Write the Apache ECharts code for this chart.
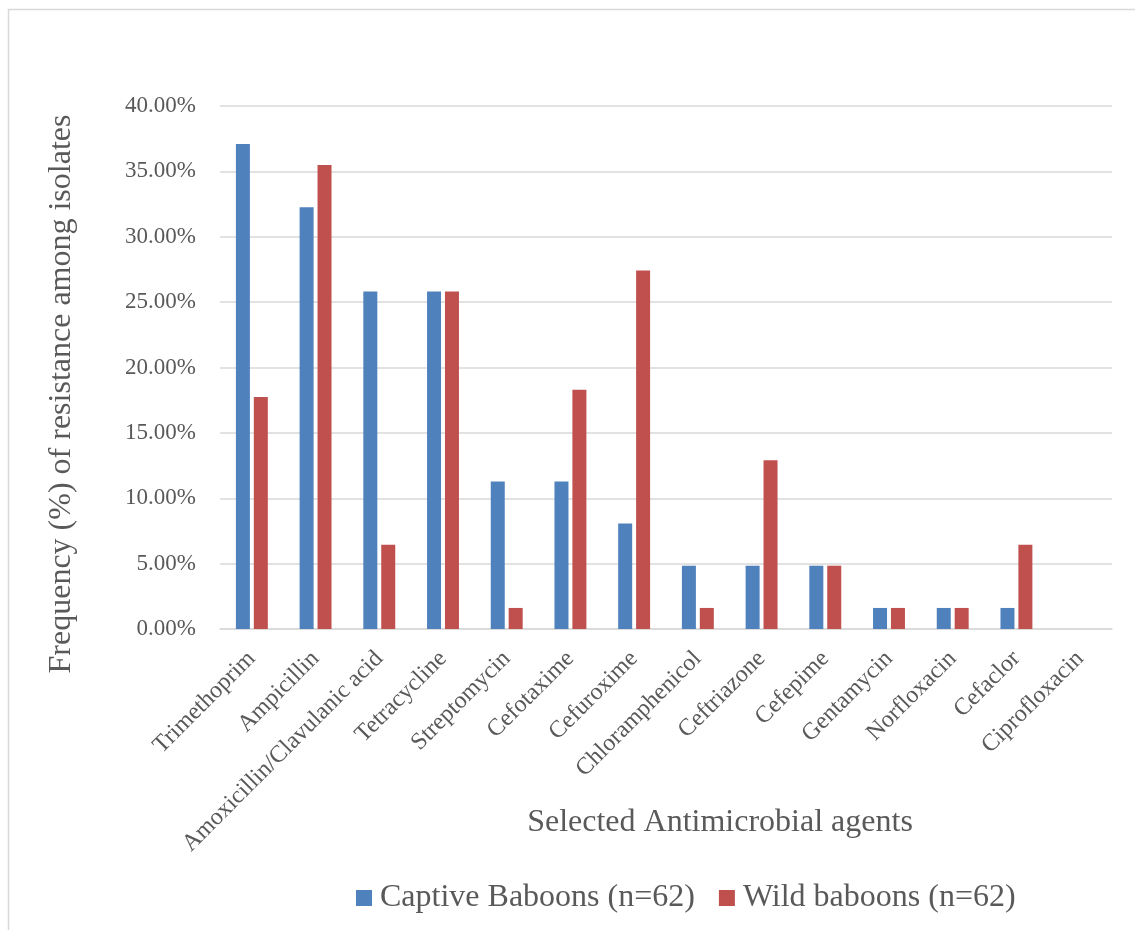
<!DOCTYPE html>
<html>
<head>
<meta charset="utf-8">
<script src="https://cdn.jsdelivr.net/npm/echarts@6/dist/echarts.min.js"></script>
<style>
html,body{margin:0;padding:0;background:#fff;}
#chart{width:1135px;height:930px;}
</style>
</head>
<body>
<div id="chart"></div>
<script>
const categories = ["Trimethoprim","Ampicillin","Amoxicillin/Clavulanic acid","Tetracycline","Streptomycin","Cefotaxime","Cefuroxime","Chloramphenicol","Ceftriazone","Cefepime","Gentamycin","Norfloxacin","Cefaclor","Ciprofloxacin"];
const captive = [37.10,32.26,25.81,25.81,11.29,11.29,8.06,4.84,4.84,4.84,1.61,1.61,1.61,0];
const wild = [17.74,35.48,6.45,25.81,1.61,18.30,27.42,1.61,12.90,4.84,1.61,1.61,6.45,0];
const seriesNames = ["Captive Baboons (n=62)","Wild baboons (n=62)"];
const yTitle = "Frequency (%) of resistance among isolates";
const xTitle = "Selected Antimicrobial agents";

const font = "'Liberation Serif','Times New Roman',serif";
const txt = "#595959";
const chart = echarts.init(document.getElementById('chart'));
chart.setOption({
  animation:false,
  textStyle:{fontFamily:font},
  graphic:[
    {type:'rect',shape:{x:8.5,y:9.5,width:1200,height:1000},style:{fill:null,stroke:'#d9d9d9',lineWidth:1.5},silent:true,z:-1},
    {type:'text',x:720,y:823,style:{text:xTitle,font:"32px "+font,fill:txt,align:'center',verticalAlign:'middle'}},
    {type:'text',x:62,y:394,rotation:Math.PI/2,style:{text:yTitle,font:"32px "+font,fill:txt,align:'center',verticalAlign:'middle'}}
  ],
  legend:{
    data:seriesNames,
    left:351,top:877,
    itemWidth:16,itemHeight:16,itemGap:24,
    icon:'rect',
    textStyle:{fontSize:32,color:txt,fontFamily:font,padding:[0,0,0,3]}
  },
  grid:{left:220,right:23,top:106,bottom:301,containLabel:false},
  xAxis:{
    type:'category',data:categories,
    axisLine:{lineStyle:{color:'#d9d9d9',width:1.5}},
    axisTick:{show:false},
    axisLabel:{rotate:45,fontSize:24,color:txt,fontFamily:font,margin:26,interval:0}
  },
  yAxis:{
    type:'value',min:0,max:40,interval:5,
    axisLine:{show:false},axisTick:{show:false},
    splitLine:{lineStyle:{color:'#d9d9d9',width:1.5}},
    axisLabel:{fontSize:23,color:txt,fontFamily:font,margin:24,formatter:v=>v.toFixed(2)+'%'}
  },
  series:[
    {name:seriesNames[0],type:'bar',data:captive,barWidth:14,barGap:'28%',itemStyle:{color:'#4F81BD'}},
    {name:seriesNames[1],type:'bar',data:wild,barWidth:14,barGap:'28%',itemStyle:{color:'#C0504D'}}
  ]
});
</script>
</body>
</html>
